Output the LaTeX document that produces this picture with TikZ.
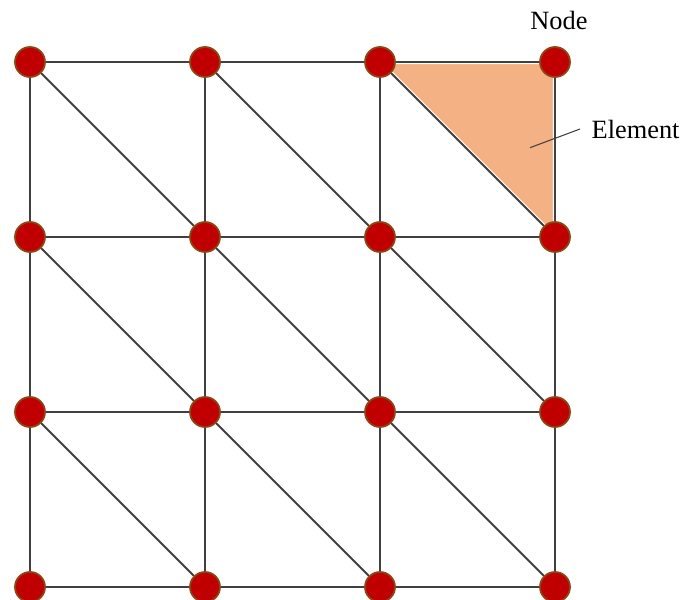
\documentclass[tikz,border=0pt]{standalone}
\usepackage{fontspec}
\setmainfont{Liberation Serif}
\usetikzlibrary{backgrounds,calc}
\definecolor{nodered}{RGB}{192,0,0}
\definecolor{nodeedge}{RGB}{140,70,20}
\definecolor{elemfill}{RGB}{244,177,131}
\definecolor{meshgray}{RGB}{64,64,64}

\begin{document}
\begin{tikzpicture}[
    fem/.style={circle, fill=nodered, draw=nodeedge, line width=0.5pt, minimum size=0.3cm, inner sep=0pt},
    mesh/.style={draw=meshgray, line width=0.6pt},
    lbl/.style={font=\fontsize{7.5}{9}\selectfont, inner sep=0pt}
]
\useasboundingbox (0,0) rectangle (6.83,-6.00);
% mesh nodes
\foreach \i in {0,...,3}
  \foreach \j in {0,...,3}
    \node[fem] (n-\i-\j) at ({0.30+1.75*\i},{-0.62-1.75*\j}) {};

\begin{pgfonlayer}{background}
\fill[elemfill, draw=white, line width=1.2pt] (n-2-0.center) -- (n-3-0.center) -- (n-3-1.center) -- cycle;
\foreach \i in {0,...,3}
  \foreach \j [count=\k] in {0,...,2} {
    \path[mesh] (n-\i-\j) -- (n-\i-\k);
    \path[mesh] (n-\j-\i) -- (n-\k-\i);
  }
% diagonals
\foreach \i [count=\ii] in {0,...,2}
  \foreach \j [count=\jj] in {0,...,2}
    \path[mesh] (n-\i-\j) -- (n-\ii-\jj);
\end{pgfonlayer}

\node[lbl, anchor=base] (nodelbl) at (5.59,-0.293) {Node};
\node[lbl, anchor=base west] (elem) at (5.91,-1.38) {Element};
\coordinate (lead) at (5.30,-1.477);
\draw[meshgray, line width=0.3pt] (lead) -- ($(elem.west)+(-0.11,0)$);
\end{tikzpicture}
\end{document}
